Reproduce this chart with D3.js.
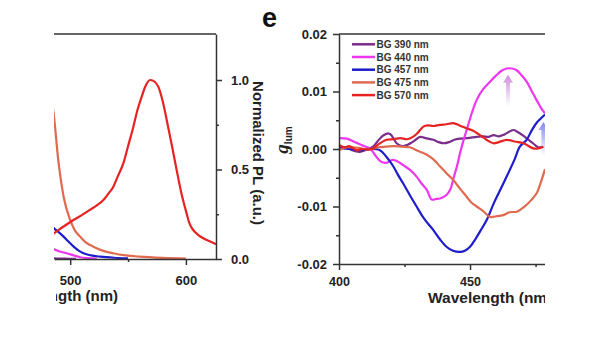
<!DOCTYPE html>
<html>
<head>
<meta charset="utf-8">
<script src="https://cdn.jsdelivr.net/npm/d3@7"></script>
<style>
  body { margin: 0; background: #fff; }
  svg { display: block; font-family: "Liberation Sans", Arial, sans-serif; }
  .axis path, .axis line { stroke: #333; stroke-width: 1.5; }
  .axis text { fill: #222; font-weight: bold; }
</style>
</head>
<body>
<script>
"use strict";

// left panel: normalized PL, only its right part is visible
const plTicks = [0, 0.5, 1.0];
const plMinor = [0.25, 0.75];
const plXTicks = [500, 600];
const plXMinor = [550];
const pl390 = [[480,0.004],[486,0.003],[495,0.002],[505,0.001]];
const pl440 = [[480,0.075],[486,0.054],[491,0.042],[497,0.032],[503,0.02],[508.6,0.01],[515,0.005],[523,0.002]];
const pl457 = [[480,0.22],[486,0.171],[490,0.15],[494.3,0.125],[498,0.1],[503,0.069],[507,0.048],[511.5,0.032],[518,0.02],[526,0.013],[538,0.007],[550,0.004]];
const pl475 = [[480,1.05],[486,0.795],[490,0.534],[494.3,0.348],[500,0.218],[504,0.16],[508.6,0.125],[514,0.09],[520,0.069],[528,0.047],[537,0.032],[548,0.02],[560,0.013],[580,0.006],[600,0.002]];
const pl570 = [[480,0.12],[486,0.144],[494,0.18],[502.8,0.218],[510,0.245],[517,0.274],[523,0.3],[528.7,0.33],[533,0.365],[537.3,0.404],[541,0.46],[545.9,0.534],[550,0.63],[554.6,0.739],[558,0.83],[561.8,0.907],[565,0.965],[569,1.0],[572,0.995],[576.1,0.963],[580,0.88],[583.4,0.777],[588,0.63],[592,0.497],[596,0.37],[600.6,0.255],[603,0.2],[606.3,0.162],[610,0.138],[615,0.116],[620,0.1],[626,0.082]];

// panel e: g_lum
const gTicks = [-0.02, -0.01, 0, 0.01, 0.02];
const gMinor = [-0.015, -0.005, 0.005, 0.015];
const gXTicks = [400, 450];
const gXMinor = [425, 475];
const legendNames = ["BG 390 nm", "BG 440 nm", "BG 457 nm", "BG 475 nm", "BG 570 nm"];
const colors = ["#7b2d8c", "#ee36ee", "#1d1dcc", "#e06a50", "#e62222"];
const g390 = [[400,0.0],[403,0.0003],[405,-0.0002],[408,-0.0005],[410,-0.0002],[413,0.0004],[415,0.0015],[417,0.0024],[419,0.0027],[420,0.0024],[422,0.001],[424,0.0005],[426,0.0007],[428,0.0012],[431,0.0021],[433,0.0019],[436,0.0016],[438,0.0012],[440,0.001],[442,0.0012],[444,0.0016],[446,0.0018],[449,0.0019],[452.5,0.0021],[455,0.0022],[457,0.0021],[459,0.0024],[461,0.0022],[463,0.0025],[466.5,0.0033],[468,0.003],[470,0.0024],[472,0.0017],[474,0.001],[476,0.0003],[477.4,0.0004]];
const g440 = [[400,0.0019],[403,0.0018],[406,0.0012],[409,0.0006],[412,0.0],[414,-0.0012],[416,-0.0022],[418,-0.0024],[420.5,-0.0019],[422.5,-0.0022],[424.5,-0.0028],[427,-0.0036],[429.6,-0.0048],[431.5,-0.006],[433.5,-0.0071],[435.4,-0.0088],[437,-0.0087],[438.5,-0.0086],[441,-0.008],[442.5,-0.007],[443.5,-0.0054],[445,-0.003],[446.2,-0.0007],[447.5,0.0015],[448.7,0.0033],[450.5,0.006],[452.5,0.0085],[455,0.0104],[457.6,0.0117],[460,0.0128],[462,0.0136],[464,0.014],[466,0.014],[467.8,0.0137],[469.5,0.0129],[471.6,0.0117],[473.5,0.0101],[475.4,0.0085],[477,0.0072],[478.6,0.0062]];
const g457 = [[400,0.0002],[404,0.0],[408,-0.0002],[412,0.0],[415.6,-0.0002],[418,-0.0013],[420.7,-0.003],[422.5,-0.0045],[424.5,-0.006],[427,-0.008],[429.6,-0.01],[432,-0.0118],[434,-0.013],[436,-0.0141],[438.5,-0.0157],[441,-0.017],[443.5,-0.0177],[446.2,-0.0179],[448,-0.0177],[450,-0.017],[452,-0.0157],[454,-0.0142],[456.4,-0.0123],[459,-0.0095],[460.8,-0.0078],[462.7,-0.006],[465,-0.0038],[467,-0.0018],[469,0.0004],[471.6,0.0016],[473.5,0.0032],[475.5,0.0046],[478.6,0.006]];
const g475 = [[400,-0.0002],[403,0.0003],[407.6,0.0002],[411,-0.0001],[415,0.0003],[418,0.0004],[421,0.0005],[424,0.0004],[427,0.0003],[430,-0.0003],[433.5,-0.001],[436,-0.0018],[438.5,-0.003],[441,-0.0042],[443.6,-0.0054],[446,-0.0068],[448.7,-0.0083],[450.5,-0.0093],[452.5,-0.01],[455,-0.0108],[457.6,-0.0118],[460,-0.0117],[462.7,-0.0115],[465,-0.011],[467.8,-0.0109],[470,-0.0103],[471.6,-0.0097],[473.5,-0.0088],[475.4,-0.0077],[477,-0.0058],[478.6,-0.0035]];
const g570 = [[400,0.0007],[402,0.0003],[404,0.0005],[406.7,-0.0002],[409,0.0],[411,-0.0001],[413,0.0001],[415,0.0008],[418.2,0.0016],[421,0.0017],[423.3,0.0019],[426,0.0017],[428.2,0.0021],[430,0.0028],[432.2,0.0039],[434,0.0041],[436,0.004],[438.5,0.0042],[441,0.0043],[443.6,0.0045],[446,0.0041],[448.7,0.0036],[451,0.0032],[453.8,0.0024],[456,0.0017],[458.9,0.001],[461,0.0012],[464,0.0016],[467,0.0013],[470.4,0.001],[472,0.0006],[474.2,0.0001],[476,0.0001],[478,0.0004]];
// arrows: [wavelength, from, to]
const arrows = [[464.5, 0.0075, 0.0129, "#c77ad6"], [478, -0.0012, 0.0047, "#6f72ea"]];

const W = 600, H = 338;
const svg = d3.select("body").append("svg").attr("width", W).attr("height", H);
const defs = svg.append("defs");
defs.append("clipPath").attr("id", "clipL").append("rect").attr("x", 54).attr("y", 0).attr("width", 200).attr("height", 338);
defs.append("clipPath").attr("id", "clipLtext").append("rect").attr("x", 56).attr("y", 0).attr("width", 180).attr("height", 338);
defs.append("clipPath").attr("id", "clipR").append("rect").attr("x", 260).attr("y", 0).attr("width", 285).attr("height", 338);
defs.append("clipPath").attr("id", "clipPlot").append("rect").attr("x", 54).attr("y", 34).attr("width", 162).attr("height", 225);

// ---- left panel
const xPL = d3.scaleLinear().domain([486, 626]).range([54, 216]);
const yPL = d3.scaleLinear().domain([0, 1.257]).range([259, 34]);
const left = svg.append("g").attr("clip-path", "url(#clipL)");

const linePL = d3.line().x(d => xPL(d[0])).y(d => yPL(d[1])).curve(d3.curveMonotoneX);
const plot = left.append("g").attr("clip-path", "url(#clipPlot)");
[pl390, pl440, pl457, pl475, pl570].forEach((s, i) => {
  plot.append("path").datum(s).attr("d", linePL)
    .attr("fill", "none").attr("stroke", colors[i]).attr("stroke-width", 2.2);
});

left.append("line").attr("x1", 54).attr("x2", 216).attr("y1", 34).attr("y2", 34)
  .attr("stroke", "#333").attr("stroke-width", 1.5);
left.append("g").attr("class", "axis").attr("transform", "translate(216,0)")
  .call(d3.axisRight(yPL).tickValues(plMinor).tickSize(3).tickFormat("").tickSizeOuter(0))
  .select(".domain").remove();
left.append("g").attr("class", "axis").attr("transform", "translate(216,0)")
  .call(d3.axisRight(yPL).tickValues(plTicks).tickSize(6).tickPadding(9).tickSizeOuter(0).tickFormat(d3.format(".1f")))
  .selectAll("text").style("font-size", "13px");
left.append("g").attr("class", "axis").attr("transform", "translate(0,259)")
  .call(d3.axisBottom(xPL).tickValues(plXMinor).tickSize(3).tickFormat("").tickSizeOuter(0))
  .select(".domain").remove();
left.append("g").attr("class", "axis").attr("transform", "translate(0,259)")
  .call(d3.axisBottom(xPL).tickValues(plXTicks).tickSize(6).tickPadding(11).tickSizeOuter(0))
  .selectAll("text").style("font-size", "13px");
svg.append("text").attr("clip-path", "url(#clipLtext)")
  .attr("x", 118).attr("y", 301).attr("text-anchor", "end")
  .style("font-size", "15px").style("font-weight", "bold").attr("fill", "#222")
  .text("Wavelength (nm)");
svg.append("text").attr("transform", "translate(252.5,153) rotate(90)")
  .attr("text-anchor", "middle")
  .style("font-size", "15px").style("font-weight", "bold").attr("fill", "#222")
  .text("Normalized PL (a.u.)");

// ---- panel e
const xG = d3.scaleLinear().domain([400, 478.6]).range([339, 545]);
const yG = d3.scaleLinear().domain([-0.02, 0.02]).range([264, 34]);
const right = svg.append("g").attr("clip-path", "url(#clipR)");

svg.append("text").attr("x", 262).attr("y", 27)
  .style("font-size", "27px").style("font-weight", "bold").attr("fill", "#111").text("e");

// arrows with fading gradient
arrows.forEach((a, i) => {
  const gr = defs.append("linearGradient").attr("id", "ag" + i)
    .attr("x1", 0).attr("y1", 1).attr("x2", 0).attr("y2", 0);
  gr.append("stop").attr("offset", "0%").attr("stop-color", a[3]).attr("stop-opacity", 0);
  gr.append("stop").attr("offset", "100%").attr("stop-color", a[3]).attr("stop-opacity", 0.85);
  const x = xG(a[0]), y0 = yG(a[1]), y1 = yG(a[2]);
  right.append("path")
    .attr("d", `M${x - 2},${y0} L${x - 2},${y1 + 8} L${x - 5},${y1 + 8} L${x},${y1} L${x + 5},${y1 + 8} L${x + 2},${y1 + 8} L${x + 2},${y0} Z`)
    .attr("fill", `url(#ag${i})`);
});

const lineG = d3.line().x(d => xG(d[0])).y(d => yG(d[1])).curve(d3.curveCatmullRom);
[g390, g440, g457, g475, g570].forEach((s, i) => {
  right.append("path").datum(s).attr("d", lineG)
    .attr("fill", "none").attr("stroke", colors[i]).attr("stroke-width", 2.2);
});

right.append("line").attr("x1", 339).attr("x2", 560).attr("y1", 34).attr("y2", 34)
  .attr("stroke", "#333").attr("stroke-width", 1.5);
right.append("g").attr("class", "axis").attr("transform", "translate(339,0)")
  .call(d3.axisLeft(yG).tickValues(gMinor).tickSize(3).tickFormat("").tickSizeOuter(0))
  .select(".domain").remove();
right.append("g").attr("class", "axis").attr("transform", "translate(339,0)")
  .call(d3.axisLeft(yG).tickValues(gTicks).tickSize(6).tickPadding(6).tickSizeOuter(0).tickFormat(d => d.toFixed(2)))
  .selectAll("text").style("font-size", "13px");
right.append("g").attr("class", "axis").attr("transform", "translate(0,264)")
  .call(d3.axisBottom(xG).tickValues(gXMinor).tickSize(3).tickFormat("").tickSizeOuter(0))
  .select(".domain").remove();
right.append("g").attr("class", "axis").attr("transform", "translate(0,264)")
  .call(d3.axisBottom(xG).tickValues(gXTicks).tickSize(6).tickPadding(7).tickSizeOuter(0))
  .selectAll("text").style("font-size", "12.5px");
right.append("text").attr("x", 428).attr("y", 303)
  .style("font-size", "15.5px").style("font-weight", "bold").attr("fill", "#222")
  .text("Wavelength (nm)");

// g_lum label
const gl = svg.append("text").attr("transform", "translate(288,140) rotate(-90)")
  .attr("text-anchor", "middle").attr("fill", "#222");
gl.append("tspan").style("font-family", "'Liberation Serif', 'Times New Roman', serif")
  .style("font-style", "italic").style("font-weight", "bold").style("font-size", "19px").text("g");
gl.append("tspan").attr("dy", 4).style("font-size", "10px").style("font-weight", "bold").text("lum");

// legend
const leg = right.append("g");
legendNames.forEach((name, i) => {
  const y = 44.3 + i * 12.7;
  leg.append("line").attr("x1", 352).attr("x2", 375).attr("y1", y).attr("y2", y)
    .attr("stroke", colors[i]).attr("stroke-width", 2.5);
  leg.append("text").attr("x", 376.5).attr("y", y).attr("dy", "0.35em")
    .style("font-size", "10px").style("font-weight", "bold").attr("fill", "#333").text(name);
});
</script>
</body>
</html>
